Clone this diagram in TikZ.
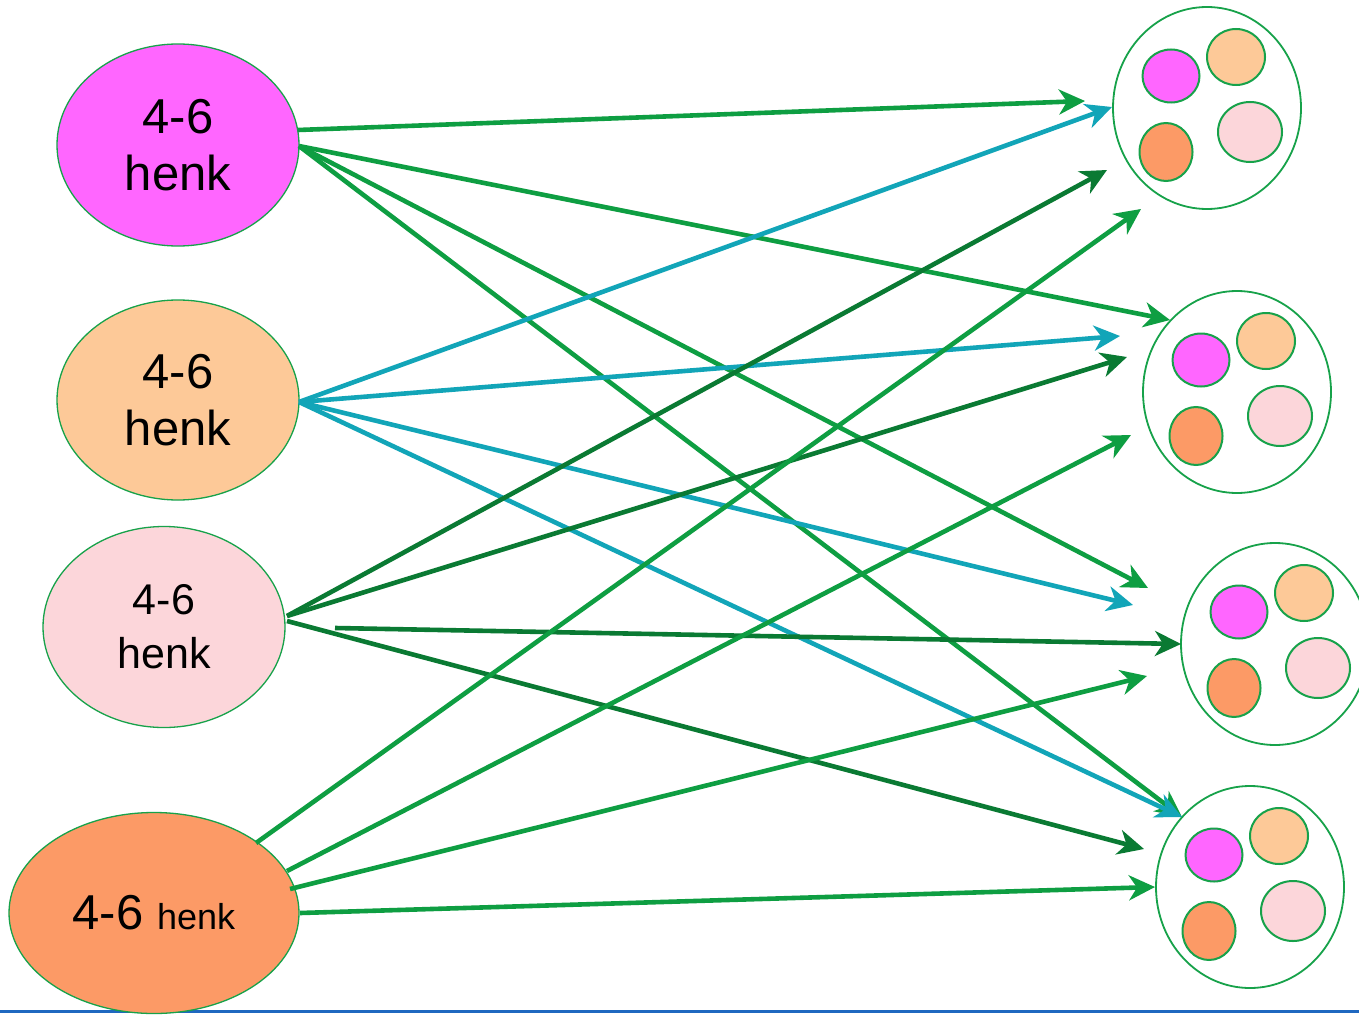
\documentclass[tikz,border=0pt]{standalone}
\usepackage{fontspec}
\setmainfont{Liberation Sans}
\usetikzlibrary{shapes.geometric,arrows.meta,calc}
\definecolor{cmag}{HTML}{FF66FF}
\definecolor{cpeach}{HTML}{FDC998}
\definecolor{cpink}{HTML}{FCD6DA}
\definecolor{corange}{HTML}{FC9A66}
\definecolor{cgreen}{HTML}{0E9E42}
\definecolor{cteal}{HTML}{12A5B8}
\definecolor{cdark}{HTML}{0A7A33}
\definecolor{cblue}{HTML}{1F68C0}
\definecolor{cedge}{HTML}{17A24A}
\tikzset{
  bigell/.style={ellipse, draw=cedge, line width=1.3pt, inner sep=0pt, align=center, text=black},
  outer/.style={ellipse, draw=cedge, line width=1.8pt, fill=white, minimum width=188pt, minimum height=202pt, inner sep=0pt},
  inner/.style={ellipse, draw=cedge, line width=2pt, inner sep=0pt},
  arr/.style={line width=4.6pt, -{Stealth[length=26pt,width=25pt,inset=8pt]}},
  ga/.style={arr, draw=cgreen},
  ta/.style={arr, draw=cteal},
  da/.style={arr, draw=cdark},
}
\newcommand{\pool}[2]{%
  \node[outer] (#1) at (#2) {};
  \node[inner, fill=cmag, minimum width=57pt, minimum height=53pt] (#1m) at ($(#2)+(-36,-32)$) {};
  \node[inner, fill=cpeach, minimum width=58pt, minimum height=56pt] (#1p) at ($(#2)+(29,-51)$) {};
  \node[inner, fill=corange, minimum width=53pt, minimum height=58pt] (#1o) at ($(#2)+(-41,44)$) {};
  \node[inner, fill=cpink, minimum width=64pt, minimum height=60pt] (#1k) at ($(#2)+(43,24)$) {};
}
\begin{document}
\begin{tikzpicture}[x=1pt,y=-1pt]
\useasboundingbox (0,0) rectangle (1359,1014);
\fill[white] (0,0) rectangle (1359,1014);
% bottom rule
\draw[cblue, line width=3pt] (0,1011.5) -- (1359,1011.5);
% left ellipses
\node[bigell, fill=cmag, minimum width=242pt, minimum height=202pt,
  font=\fontsize{49}{57}\selectfont] (L1) at (178,145) {4-6\\henk};
\node[bigell, fill=cpeach, minimum width=242pt, minimum height=200pt,
  font=\fontsize{49}{57}\selectfont] (L2) at (178,400) {4-6\\henk};
\node[bigell, fill=cpink, minimum width=242pt, minimum height=201pt,
  font=\fontsize{43}{54}\selectfont] (L3) at (164,627) {4-6\\henk};
\node[bigell, fill=corange, minimum width=290pt, minimum height=201pt] (L4) at (154,913)
  {\fontsize{49}{56}\selectfont 4-6 \fontsize{36}{42}\selectfont henk};
% right pools
\pool{R1}{1207,108}
\pool{R2}{1237,392}
\pool{R3}{1275,644}
\pool{R4}{1250,887}
% start coordinates
\coordinate (s1a) at (298,130);
\coordinate (s1) at (299,146);
\coordinate (s2) at (299,402);
\coordinate (s3a) at (287,616);
\coordinate (s3b) at (287,621);
\coordinate (s3k) at (335,628);
\coordinate (s4a) at (256,843);
\coordinate (s4b) at (287,871);
\coordinate (s4c) at (290,889);
\coordinate (s4d) at (300,913);
% tips
\coordinate (e1) at (1085,101);
\coordinate (e2) at (1112,107);
\coordinate (e3) at (1107,170);
\coordinate (e4) at (1141,209);
\coordinate (e5) at (1170,320);
\coordinate (e6) at (1120,336);
\coordinate (e7) at (1127,357);
\coordinate (e8) at (1131,435);
\coordinate (e9) at (1148,588);
\coordinate (e10) at (1133,605);
\coordinate (e11) at (1181,644);
\coordinate (e12) at (1147,676);
\coordinate (e13) at (1182,817);
\coordinate (e14) at (1144,849);
\coordinate (e15) at (1155,887);
% arrows from L1
\draw[ga] (s1a) -- (e1);
\draw[ga] (s1) -- (e5);
\draw[ga] (s1) -- (e9);
\draw[ga] (s1) -- (e13);
% arrows from L2
\draw[ta] (s2) -- (e2);
\draw[ta] (s2) -- (e6);
\draw[ta] (s2) -- (e10);
\draw[ta] (s2) -- (e13);
% arrows from L3
\draw[da] (s3a) -- (e3);
\draw[da] (s3a) -- (e7);
\draw[da] (s3k) -- (e11);
\draw[da] (s3b) -- (e14);
% arrows from L4
\draw[ga] (s4a) -- (e4);
\draw[ga] (s4b) -- (e8);
\draw[ga] (s4c) -- (e12);
\draw[ga] (s4d) -- (e15);
\end{tikzpicture}
\end{document}
